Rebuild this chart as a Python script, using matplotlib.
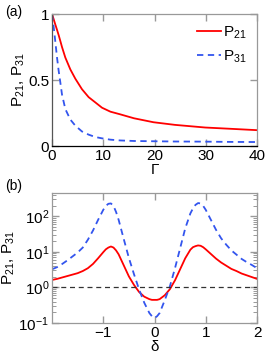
import matplotlib
matplotlib.use("Agg")
import matplotlib.pyplot as plt
import numpy as np
from matplotlib.ticker import LogLocator, NullFormatter

plt.rcParams['font.family'] = ['Liberation Sans', 'DejaVu Sans']
plt.rcParams['mathtext.fontset'] = 'custom'
plt.rcParams['mathtext.rm'] = 'Liberation Sans'
plt.rcParams['mathtext.it'] = 'Liberation Sans'

# panel (a): P21, P31 vs Gamma
gam = [0, 0.33, 0.65, 0.98, 1.3, 1.63, 1.95, 2.6, 3.58, 4.55, 5.85, 7.15, 8.46, 9.76, 11.4, 13.3,
       16, 19.8, 24, 29.9, 35, 40]
p21_a = [1.0, 0.96, 0.92, 0.88, 0.84, 0.795, 0.75, 0.67, 0.58, 0.51, 0.43, 0.37, 0.33, 0.29, 0.26, 0.24,
         0.21, 0.18, 0.16, 0.14, 0.13, 0.12]
p31_a = [1.0, 0.90, 0.79, 0.67, 0.57, 0.48, 0.39, 0.28, 0.20, 0.154, 0.11, 0.086, 0.068, 0.058, 0.048, 0.042,
         0.038, 0.036, 0.034, 0.033, 0.031, 0.03]

# panel (b): P21, P31 vs delta (log10 values)
delta = [-2.0, -1.9, -1.8, -1.7, -1.6, -1.5, -1.4, -1.3, -1.2, -1.1, -1.0, -0.95, -0.9, -0.85, -0.8,
         -0.75, -0.7, -0.6, -0.5, -0.4, -0.3, -0.2, -0.1, -0.05, 0.0,
         0.05, 0.1, 0.2, 0.3, 0.4, 0.5, 0.6, 0.7, 0.75, 0.8, 0.85, 0.9, 0.95, 1.0,
         1.1, 1.2, 1.3, 1.4, 1.5, 1.6, 1.7, 1.8, 1.9, 2.0]
log_p21 = [0.21, 0.24, 0.28, 0.32, 0.36, 0.40, 0.46, 0.54, 0.66, 0.82, 0.99, 1.07, 1.12, 1.15, 1.12,
           1.04, 0.93, 0.62, 0.31, 0.07, -0.13, -0.26, -0.33, -0.35, -0.35,
           -0.35, -0.33, -0.22, -0.05, 0.20, 0.51, 0.82, 1.06, 1.13, 1.16, 1.18, 1.17, 1.13, 1.07,
           0.94, 0.81, 0.70, 0.61, 0.52, 0.46, 0.39, 0.34, 0.29, 0.24]
log_p31 = [0.51, 0.57, 0.66, 0.76, 0.87, 0.98, 1.12, 1.34, 1.60, 1.90, 2.18, 2.29, 2.35, 2.36, 2.29,
           2.12, 1.90, 1.36, 0.83, 0.37, -0.06, -0.43, -0.72, -0.81, -0.86,
           -0.81, -0.72, -0.36, 0.03, 0.54, 1.10, 1.66, 2.08, 2.22, 2.32, 2.37, 2.36, 2.29, 2.18,
           1.90, 1.62, 1.38, 1.20, 1.04, 0.92, 0.80, 0.71, 0.63, 0.54]
p21_b = 10 ** np.array(log_p21)
p31_b = 10 ** np.array(log_p31)
ref_level = 1.0

red = '#ff0000'
blue = '#3355ee'
grey = '#999999'

fig = plt.figure(figsize=(2.66, 3.58), dpi=100)
ax1 = fig.add_axes([52 / 266, 1 - 146 / 358, 205 / 266, 132 / 358])
ax2 = fig.add_axes([52 / 266, 1 - 323 / 358, 205 / 266, 130 / 358])

ax1.plot(gam, p21_a, color=red, lw=1.3, label='P$_{21}$')
ax1.plot(gam, p31_a, color=blue, lw=1.3, ls=(0, (3.5, 2.5)), label='P$_{31}$')
ax1.set_xlim(0, 40)
ax1.set_ylim(0, 1)
ax1.set_xticks([0, 10, 20, 30, 40])
ax1.set_yticks([0, 0.5, 1])
ax1.set_yticklabels(['0', '0.5', '1'])
ax1.set_xlabel('Γ', fontsize=11, labelpad=0)
ax1.set_ylabel('P$_{21}$, P$_{31}$', fontsize=11, labelpad=1)
ax1.legend(loc='upper right', frameon=False, fontsize=11, handlelength=1.6,
           handletextpad=0.1, labelspacing=0.5, borderaxespad=0.3)

ax2.plot(delta, p21_b, color=red, lw=1.3)
ax2.plot(delta, p31_b, color=blue, lw=1.3, ls=(0, (3.5, 2.5)))
ax2.axhline(ref_level, color='#333333', lw=0.9, ls=(0, (4, 3)))
ax2.set_yscale('log')
ax2.set_xlim(-2, 2)
ax2.set_ylim(0.1, 450)
ax2.set_xticks([-1, 0, 1, 2])
ax2.set_xticklabels(['\u22121', '0', '1', '2'])
ax2.yaxis.set_major_locator(LogLocator(base=10, numticks=10))
ax2.yaxis.set_minor_locator(LogLocator(base=10, subs=np.arange(2, 10), numticks=20))
ax2.yaxis.set_minor_formatter(NullFormatter())
ax2.set_xlabel('δ', fontsize=11, labelpad=0)
ax2.set_ylabel('P$_{21}$, P$_{31}$', fontsize=11, labelpad=1)

for ax in (ax1, ax2):
    for s in ax.spines.values():
        s.set_color(grey)
        s.set_linewidth(0.9)
    ax.tick_params(which='both', direction='in', top=True, right=True, colors=grey,
                   labelcolor='black', labelsize=11, pad=2)
    ax.tick_params(which='major', length=5, width=1)
    ax.tick_params(which='minor', length=3, width=0.7)
ax1.spines['bottom'].set_color('black')
ax1.spines['left'].set_color('#555555')

fig.text(5 / 266, 1 - 12 / 358, '(a)', fontsize=10, va='center')
fig.text(5 / 266, 1 - 186 / 358, '(b)', fontsize=10, va='center')

fig.savefig('out.png', dpi=100)
